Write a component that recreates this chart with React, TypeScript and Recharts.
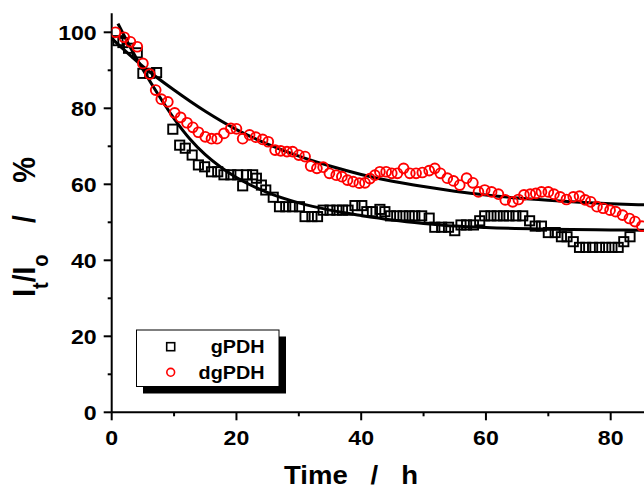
import React from 'react';
import { ComposedChart, Scatter, Line, XAxis, YAxis } from 'recharts';

const FONT = '"Liberation Sans", Arial, Helvetica, sans-serif';

const gTime = [1.0, 1.8, 2.7, 4.1, 5.0, 6.1, 7.2, 9.8, 10.9, 11.8, 12.9, 13.9, 14.9, 16.0, 17.0, 18.0, 19.1, 20.2, 21.0, 21.6, 22.6, 23.2, 24.0, 24.7, 25.9, 26.9, 27.9, 29.0, 30.1, 31.0, 32.1, 33.0, 33.9, 35.0, 36.1, 37.0, 37.9, 39.0, 40.1, 40.9, 41.8, 43.0, 43.8, 44.7, 45.7, 46.7, 47.7, 48.6, 49.7, 50.9, 51.8, 52.9, 54.0, 55.0, 56.0, 56.9, 58.0, 59.0, 59.8, 60.8, 61.8, 62.8, 63.7, 64.8, 65.9, 67.0, 67.9, 68.9, 70.0, 71.1, 72.1, 73.0, 74.0, 75.0, 76.0, 77.1, 78.2, 79.2, 80.2, 81.2, 82.1, 83.1];
const gValue = [97.8, 97.3, 95.8, 94.6, 89.2, 89.2, 89.4, 74.5, 70.3, 69.5, 67.7, 65.1, 64.6, 63.3, 63.3, 62.5, 62.5, 62.5, 59.6, 62.5, 62.5, 61.6, 59.8, 58.5, 56.6, 54.1, 54.1, 54.1, 54.1, 51.5, 51.5, 51.5, 53.2, 53.2, 53.2, 53.2, 53.2, 54.4, 54.4, 52.8, 52.8, 53.4, 52.8, 51.7, 51.7, 51.7, 51.7, 51.7, 51.7, 51.1, 48.7, 48.7, 48.7, 47.8, 49.3, 49.3, 49.3, 50.4, 51.7, 51.7, 51.7, 51.7, 51.7, 51.7, 51.7, 50.4, 49.0, 49.0, 47.3, 47.3, 46.2, 46.2, 44.9, 43.4, 43.4, 43.4, 43.4, 43.4, 43.4, 43.4, 44.9, 46.2];

const dgTime = [0.6, 2.0, 3.0, 4.1, 5.0, 6.1, 7.05, 7.95, 9.0, 10.1, 11.06, 12.07, 13.0, 13.9, 15.0, 16.0, 16.9, 18.0, 19.1, 20.0, 21.0, 22.1, 23.1, 24.2, 25.1, 26.2, 27.1, 28.1, 29.0, 30.0, 31.0, 31.9, 32.9, 33.9, 34.9, 36.0, 36.9, 37.8, 38.7, 39.7, 40.6, 41.4, 42.2, 43.0, 44.0, 44.9, 45.8, 46.8, 47.8, 48.8, 49.8, 50.9, 51.8, 52.7, 53.8, 54.8, 55.8, 56.9, 57.9, 58.8, 59.8, 60.9, 62.0, 63.1, 64.3, 65.2, 66.1, 67.1, 68.0, 68.9, 70.0, 70.9, 71.9, 72.9, 74.0, 75.0, 75.9, 76.8, 77.8, 78.8, 79.9, 80.8, 81.9, 83.0, 83.9, 85.0];
const dgValue = [100, 98.7, 97.5, 96.2, 91.8, 89.0, 84.8, 82.4, 81.7, 78.8, 77.6, 76.2, 75.0, 73.7, 72.5, 72.0, 72.0, 73.4, 74.7, 74.6, 72.0, 73.0, 72.4, 71.8, 71.2, 69.0, 68.8, 68.6, 68.6, 67.7, 67.3, 64.8, 64.2, 64.5, 62.9, 62.4, 62.0, 61.1, 60.7, 60.3, 60.4, 61.5, 62.4, 63.3, 63.3, 62.9, 62.9, 64.2, 62.9, 62.9, 63.1, 63.6, 64.2, 62.9, 61.6, 60.9, 59.8, 61.6, 60.4, 58.0, 58.5, 58.0, 57.4, 55.9, 55.4, 56.0, 57.2, 57.4, 57.6, 58.0, 58.0, 57.4, 56.7, 56.0, 56.7, 56.9, 55.9, 55.4, 54.1, 53.7, 53.2, 52.8, 51.9, 51.0, 50.2, 49.0];

const gFitTime = [1, 3, 5, 7.5, 10, 12.5, 15, 17.5, 20, 25, 30, 35, 40, 45, 50, 55, 60, 70, 80, 85.34];
const gFitValue = [102.3, 96.0, 90.2, 83.5, 77.3, 72.0, 67.8, 64.5, 61.8, 57.8, 55.1, 53.2, 51.8, 50.6, 49.7, 49.0, 48.6, 48.2, 48.0, 47.9];

const dgFitTime = [0, 5, 10, 15, 20, 25, 30, 35, 40, 45, 50, 55, 60, 65, 70, 75, 80, 85.34];
const dgFitValue = [98.4, 91.0, 84.8, 79.2, 74.4, 70.6, 67.4, 64.8, 62.6, 60.8, 59.4, 58.2, 57.2, 56.4, 55.8, 55.3, 54.9, 54.6];

const xTicks = [0, 10, 20, 30, 40, 50, 60, 70, 80];
const yTicks = [0, 10, 20, 30, 40, 50, 60, 70, 80, 90, 100];

const zip = (xs: number[], ys: number[]) => xs.map((x, i) => ({ x, y: ys[i] }));
const gData = zip(gTime, gValue);
const dgData = zip(dgTime, dgValue);
const gFit = zip(gFitTime, gFitValue);
const dgFit = zip(dgFitTime, dgFitValue);

const X_MAX = 85.34;

const YTick = (props: any) => {
  const { x, y, payload } = props;
  const major = payload.value % 20 === 0;
  return (
    <g>
      <line x1={x} x2={x - (major ? 8 : 4)} y1={y} y2={y} stroke="#000" strokeWidth={2} />
      {major && (
        <text
          transform={`translate(${x - 15},${y}) scale(1.1,1)`}
          x={0}
          y={0}
          dy="0.36em"
          textAnchor="end"
          fontFamily={FONT}
          fontWeight="bold"
          fontSize={21}
          fill="#000"
        >
          {payload.value}
        </text>
      )}
    </g>
  );
};

const XTick = (props: any) => {
  const { x, y, payload } = props;
  const major = payload.value % 20 === 0;
  return (
    <g>
      <line x1={x} x2={x} y1={y} y2={y + (major ? 8 : 4)} stroke="#000" strokeWidth={2} />
      {major && (
        <text
          transform={`translate(${x},${y + 25}) scale(1.1,1)`}
          x={0}
          y={0}
          dy="0.36em"
          textAnchor="middle"
          fontFamily={FONT}
          fontWeight="bold"
          fontSize={21}
          fill="#000"
        >
          {payload.value}
        </text>
      )}
    </g>
  );
};

const SquareShape = (props: any) => {
  const { cx, cy } = props;
  if (cx == null || cy == null) return <g />;
  return <rect x={cx - 4.6} y={cy - 4.6} width={9.2} height={9.2} fill="none" stroke="#000" strokeWidth={1.9} />;
};

const CircleShape = (props: any) => {
  const { cx, cy } = props;
  if (cx == null || cy == null) return <g />;
  return <circle cx={cx} cy={cy} r={4.9} fill="none" stroke="#ff0000" strokeWidth={1.9} />;
};

export default function App() {
  return (
    <div style={{ position: 'fixed', left: 0, top: 0, width: 644, height: 489, overflow: 'hidden', background: '#fff' }}>
      <ComposedChart width={644} height={489} margin={{ top: 13.3, right: 0, left: 0, bottom: 0 }}>
        <XAxis
          dataKey="x"
          type="number"
          domain={[0, X_MAX]}
          allowDataOverflow
          ticks={xTicks}
          interval={0}
          height={76.7}
          tickSize={0}
          tickMargin={0}
          tickLine={false}
          tick={XTick}
          axisLine={{ stroke: '#000', strokeWidth: 2 }}
        />
        <XAxis
          xAxisId="top"
          orientation="top"
          dataKey="x"
          type="number"
          domain={[0, X_MAX]}
          allowDataOverflow
          height={0}
          tick={false}
          tickLine={false}
          axisLine={{ stroke: '#000', strokeWidth: 2 }}
        />
        <YAxis
          dataKey="y"
          type="number"
          domain={[0, 105]}
          allowDataOverflow
          ticks={yTicks}
          interval={0}
          width={111.7}
          tickSize={0}
          tickMargin={0}
          tickLine={false}
          tick={YTick}
          axisLine={{ stroke: '#000', strokeWidth: 2 }}
        />
        <Scatter data={gData} dataKey="y" shape={SquareShape} isAnimationActive={false} />
        <Scatter data={dgData} dataKey="y" shape={CircleShape} isAnimationActive={false} />
        <Line data={gFit} dataKey="y" type="monotone" stroke="#000" strokeWidth={3} dot={false} activeDot={false} isAnimationActive={false} />
        <Line data={dgFit} dataKey="y" type="monotone" stroke="#000" strokeWidth={3} dot={false} activeDot={false} isAnimationActive={false} />
      </ComposedChart>
      <svg
        width={644}
        height={489}
        style={{ position: 'absolute', left: 0, top: 0, pointerEvents: 'none' }}
      >
        <text
          transform="translate(351,484) scale(1.1,1)"
          x={0}
          y={0}
          textAnchor="middle"
          fontFamily={FONT}
          fontWeight="bold"
          fontSize={25}
          fill="#000"
          xmlSpace="preserve"
          style={{ whiteSpace: 'pre' }}
        >
          {'Time   /   h'}
        </text>
        <g transform="translate(35,0) rotate(-90) scale(1,1.1)" fontFamily={FONT} fontWeight="bold" fill="#000">
          <text x={-296.7} y={0} textAnchor="start" fontSize={28}>
            <tspan>I</tspan>
            <tspan fontSize={20} dy={12}>t</tspan>
            <tspan dy={-12}>/I</tspan>
            <tspan fontSize={20} dy={12}>o</tspan>
          </text>
          <text x={-219} y={0} textAnchor="middle" fontSize={28}>/</text>
          <text x={-170} y={0} textAnchor="middle" fontSize={29}>%</text>
        </g>
        <rect x={143} y={336.5} width={143} height={57} fill="#000" />
        <rect x={136.5} y={330} width={142.5} height={56.5} fill="#fff" stroke="#000" strokeWidth={1} />
        <rect x={166.7} y={342.7} width={8} height={8} fill="none" stroke="#000" strokeWidth={1.6} />
        <circle cx={170.7} cy={372.3} r={3.9} fill="none" stroke="#ff0000" strokeWidth={1.6} />
        <text transform="translate(264.5,353.3) scale(1.1,1)" x={0} y={0} textAnchor="end" fontFamily={FONT} fontWeight="bold" fontSize={18} fill="#000">
          gPDH
        </text>
        <text transform="translate(264.5,379.3) scale(1.1,1)" x={0} y={0} textAnchor="end" fontFamily={FONT} fontWeight="bold" fontSize={18} fill="#000">
          dgPDH
        </text>
      </svg>
    </div>
  );
}
